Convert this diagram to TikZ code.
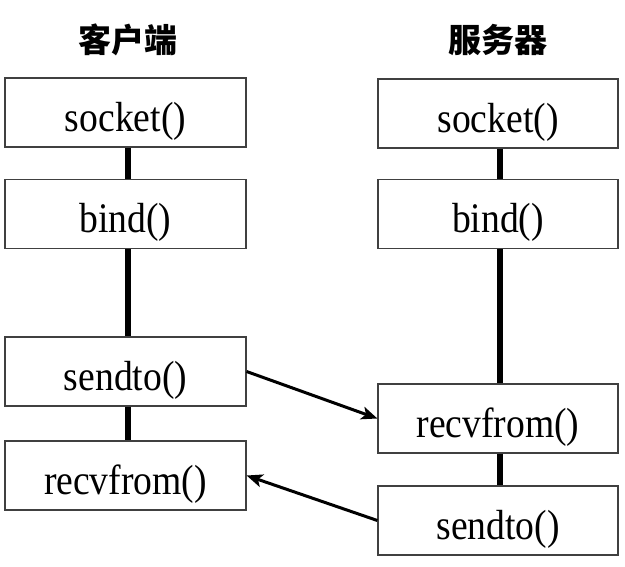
\documentclass[tikz,border=0pt]{standalone}
\usepackage{fontspec}
\usepackage{graphicx}
\setmainfont{Liberation Serif}
\newfontfamily\cjk{Noto Sans CJK SC}
\newcommand\stx[1]{\scalebox{1}[1.12]{#1}}
\usetikzlibrary{arrows.meta}
\tikzset{
  fbox/.style={draw=black!75, line width=1.2pt, rectangle, minimum width=240pt, minimum height=69pt, inner sep=0pt, text height=37pt, text depth=0pt, font=\fontsize{37.6}{40}\selectfont, fill=white},
  title/.style={font=\cjk\bfseries\fontsize{33}{36}\selectfont, inner sep=0pt},
  link/.style={line width=6pt, black},
  msg/.style={line width=3pt, black, -{Stealth[length=16pt,width=13pt,inset=4pt]}}
}
\begin{document}
\begin{tikzpicture}[x=1pt,y=-1pt]
\useasboundingbox (0,0) rectangle (625,566);
\node[title] (tc) at (128,40) {客户端};
\node[title] (ts) at (498,40) {服务器};
% client
\node[fbox, minimum width=241pt] (csock) at (125.5,112.5) {\stx{socket()}};
\node[fbox, minimum width=241pt] (cbind) at (125.5,214) {\stx{bind()}};
\node[fbox, minimum width=241pt] (csend) at (125.5,371.5) {\stx{sendto()}};
\node[fbox, minimum width=241pt] (crecv) at (125.5,475.5) {\stx{recvfrom()}};
% server
\node[fbox] (ssock) at (498,113.5) {\stx{socket()}};
\node[fbox] (sbind) at (498,214) {\stx{bind()}};
\node[fbox] (srecv) at (498,418.5) {\stx{recvfrom()}};
\node[fbox] (ssend) at (498,520.5) {\stx{sendto()}};
% life lines
\draw[link] ([xshift=2.5pt]csock.south) -- ([xshift=2.5pt]cbind.north);
\draw[link] ([xshift=2.5pt]cbind.south) -- ([xshift=2.5pt]csend.north);
\draw[link] ([xshift=2.5pt]csend.south) -- ([xshift=2.5pt]crecv.north);
\draw[link] ([xshift=2pt]ssock.south) -- ([xshift=2pt]sbind.north);
\draw[link] ([xshift=2pt]sbind.south) -- ([xshift=2pt]srecv.north);
\draw[link] ([xshift=2pt]srecv.south) -- ([xshift=2pt]ssend.north);
% messages
\draw[msg] (csend.east) -- (srecv.west);
\draw[msg] (ssend.west) -- (crecv.east);
\end{tikzpicture}
\end{document}
